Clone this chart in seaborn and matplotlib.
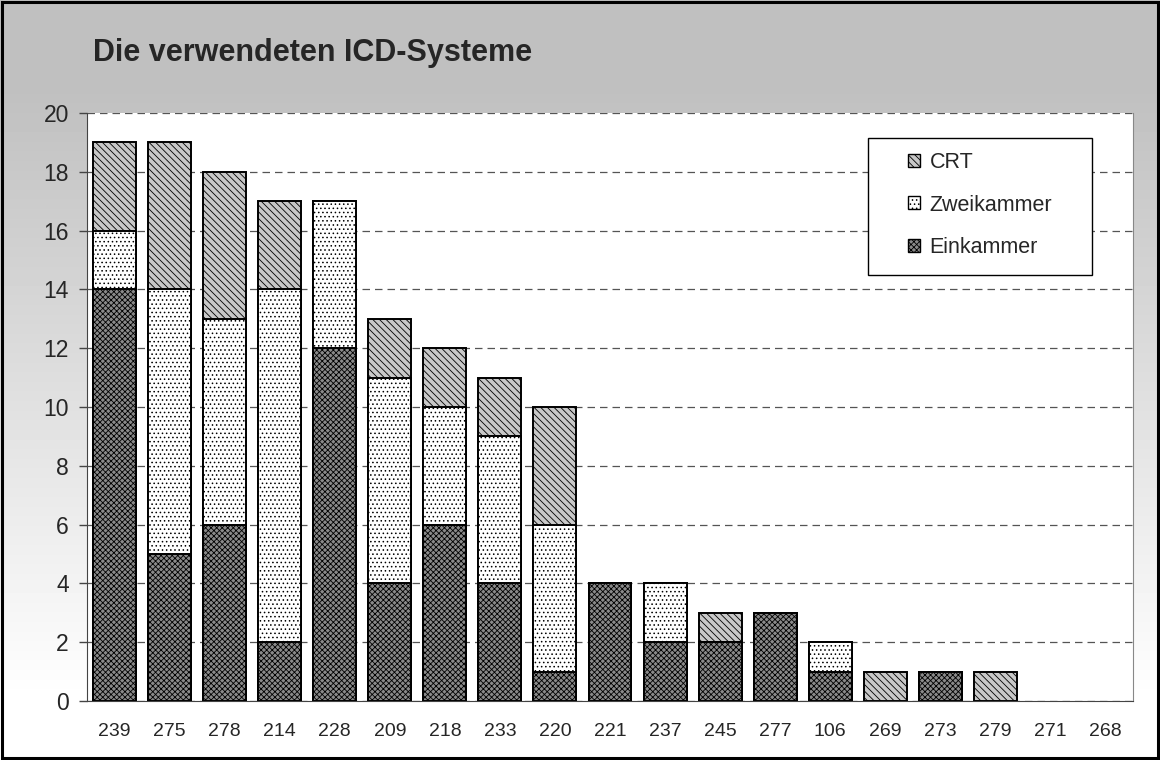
#!/usr/bin/env python3
"""
Gestapeltes Balkendiagramm: die verwendeten ICD-Systeme je Zentrum.
"""

import numpy as np
import pandas as pd
import matplotlib
matplotlib.use("Agg")
import matplotlib.pyplot as plt
from matplotlib.patches import Patch, Rectangle
from matplotlib.ticker import FixedLocator
import seaborn as sns

# Daten
zentren = ["239", "275", "278", "214", "228", "209", "218", "233", "220", "221",
           "237", "245", "277", "106", "269", "273", "279", "271", "268"]
einkammer = [14, 5, 6, 2, 12, 4, 6, 4, 1, 4, 2, 2, 3, 1, 0, 1, 0, 0, 0]
zweikammer = [2, 9, 7, 12, 5, 7, 4, 5, 5, 0, 2, 0, 0, 1, 0, 0, 0, 0, 0]
crt = [3, 5, 5, 3, 0, 2, 2, 2, 4, 0, 0, 1, 0, 0, 1, 0, 1, 0, 0]

df = pd.DataFrame({"zentrum": zentren, "Einkammer": einkammer,
                   "Zweikammer": zweikammer, "CRT": crt})
df["stufe1"] = df["Einkammer"]
df["stufe2"] = df["Einkammer"] + df["Zweikammer"]
df["stufe3"] = df["stufe2"] + df["CRT"]

sns.set_style("white")
plt.rcParams["font.family"] = ["Liberation Sans", "DejaVu Sans"]
plt.rcParams["hatch.linewidth"] = 0.6

fig = plt.figure(figsize=(11.6, 7.6), dpi=100)
fig.patch.set_facecolor("white")

# Hintergrund: Verlauf von grau (oben) nach weiss (unten)
bg = fig.add_axes([0, 0, 1, 1], zorder=-10)
zeilen = np.linspace(0, 1, 760)
verlauf = np.clip((zeilen - 0.12) / (0.92 - 0.12), 0, 1)
grau = 0.753 + (1.0 - 0.753) * verlauf
bg.imshow(grau[:, None], aspect="auto", cmap="gray", vmin=0, vmax=1,
          extent=[0, 1, 0, 1], origin="upper")
bg.set_axis_off()

ax = fig.add_axes([0.075, 0.0776, 0.9017, 0.7737])
ax.set_facecolor("white")

# Gridlinien hinter den Balken
ax.set_axisbelow(True)
ax.yaxis.grid(True, linestyle=(0, (6, 4)), color="#555555", linewidth=0.9)

stil = [
    ("stufe3", "#c8c8c8", "\\\\\\\\\\"),   # CRT
    ("stufe2", "white", "...."),         # Zweikammer
    ("stufe1", "#8a8a8a", "xxxxxx"),     # Einkammer
]
for spalte, farbe, muster in stil:
    sns.barplot(data=df, x="zentrum", y=spalte, order=zentren, color=farbe,
                width=0.78, edgecolor="black", linewidth=1.4, hatch=muster,
                saturation=1, errorbar=None, ax=ax)

# Balken ohne Hoehe nicht als Strich zeichnen
for balken in ax.patches:
    if balken.get_height() == 0:
        balken.set_visible(False)

ax.set_xlim(-0.5, len(zentren) - 0.5)
ax.set_ylim(0, 20)
ax.set_yticks(np.arange(0, 21, 2))
ax.set_xlabel("")
ax.set_ylabel("")

# Tickmarken der x-Achse zwischen den Kategorien
ax.xaxis.set_minor_locator(FixedLocator(np.arange(-0.5, len(zentren), 1)))
ax.tick_params(axis="x", which="major", length=0, labelsize=14, pad=16)
ax.tick_params(axis="x", which="minor", length=5, width=1, color="#444444")
ax.tick_params(axis="y", which="major", length=6, width=1, color="#444444",
               labelsize=16.5, pad=7, left=True)

ax.spines["top"].set_visible(False)
for seite in ["left", "bottom"]:
    ax.spines[seite].set_color("#444444")
    ax.spines[seite].set_zorder(5)
ax.spines["right"].set_color("#888888")
ax.spines["right"].set_linewidth(0.8)

fig.text(0.080, 0.930, "Die verwendeten ICD-Systeme", fontsize=22,
         fontweight="bold", ha="left", va="center")

# Legendenrahmen
ax.add_patch(Rectangle((0.7467, 0.7245), 0.2141, 0.233, transform=ax.transAxes,
                       facecolor="white", edgecolor="black", linewidth=1,
                       zorder=6, clip_on=False))
handles = [
    Patch(facecolor="#c8c8c8", edgecolor="black", hatch="\\\\\\\\\\", label="CRT"),
    Patch(facecolor="white", edgecolor="black", hatch="....", label="Zweikammer"),
    Patch(facecolor="#8a8a8a", edgecolor="black", hatch="xxxxxx", label="Einkammer"),
]
leg = ax.legend(handles=handles, loc="center", bbox_to_anchor=(0.8537, 0.8435),
                frameon=False, fontsize=15.5, handlelength=0.55,
                handleheight=0.55, handletextpad=0.45, labelspacing=0.98,
                borderpad=0, borderaxespad=0)
leg.set_zorder(7)

fig.add_artist(Rectangle((0.0015, 0.002), 0.997, 0.996, transform=fig.transFigure,
                         fill=False, edgecolor="black", linewidth=2.2, zorder=10))

plt.savefig("out.png", dpi=100)
